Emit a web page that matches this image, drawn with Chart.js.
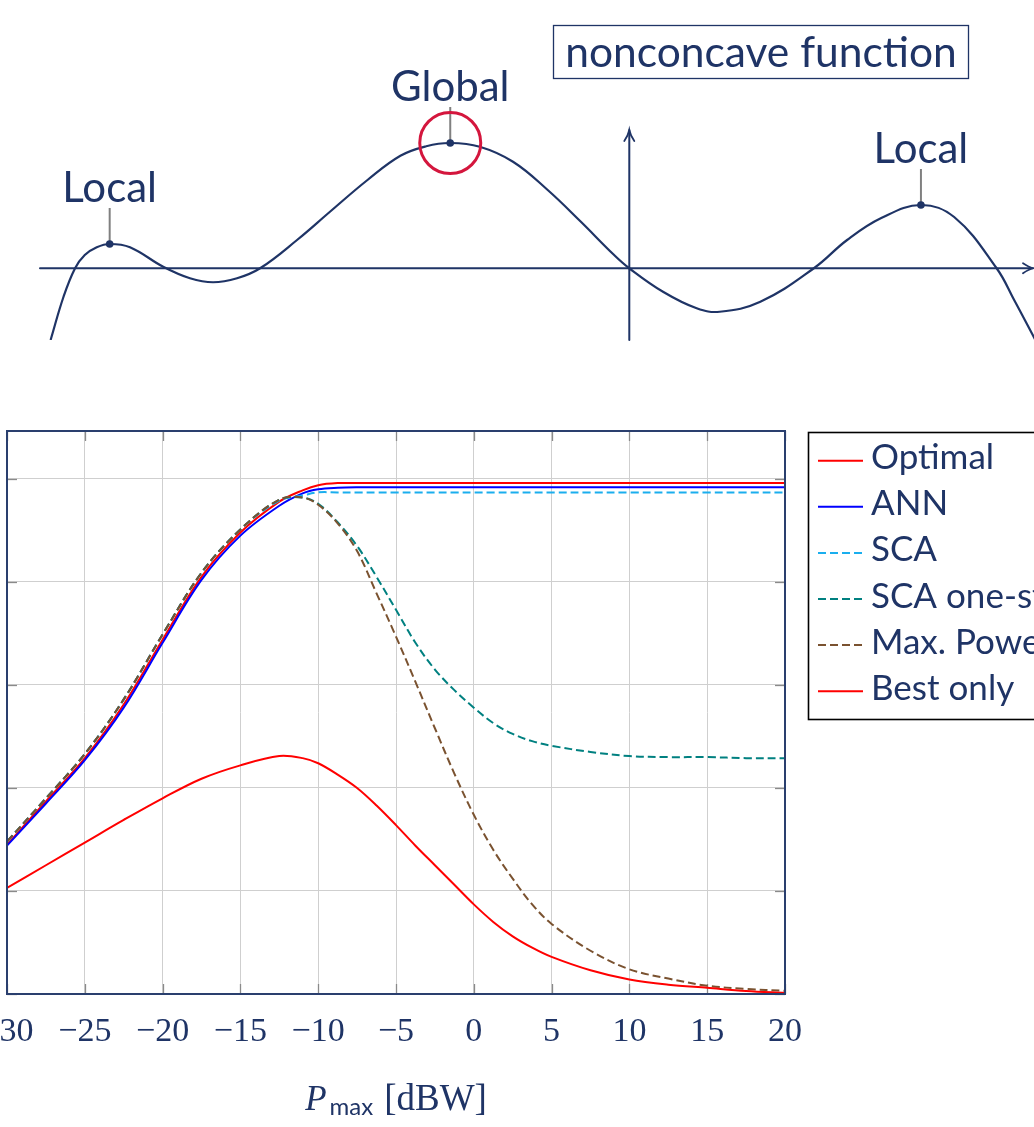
<!DOCTYPE html>
<html>
<head>
<meta charset="utf-8">
<script src="https://cdn.jsdelivr.net/npm/chart.js@4.4.1/dist/chart.umd.min.js"></script>
<style>
  html, body { margin: 0; padding: 0; background: #ffffff; overflow: hidden; width: 1034px; height: 1127px; }
  #topChart { position: absolute; left: 0; top: 0; }
  #mainChart { position: absolute; left: -60px; top: 360px; }
</style>
</head>
<body>
<canvas id="topChart" width="1034" height="360"></canvas>
<canvas id="mainChart" width="1094" height="767"></canvas>
<script>
// ---------- Top illustration: a nonconcave function ----------
const curveX = [-6.27, -6.13, -6.005, -5.90, -5.77, -5.63, -5.41, -5.05, -4.76, -4.51, -4.25, -4.0, -3.60, -3.24, -2.84, -2.48, -2.2, -1.94, -1.62, -1.26, -0.89, -0.53, -0.17, 0, 0.37, 0.73, 0.98, 1.42, 2.0, 2.36, 2.73, 3.16, 3.52, 3.98, 4.17, 4.40];
const curveY = [-2.87, -1.14, 0, 0.53, 0.84, 0.97, 0.84, 0.06, -0.40, -0.56, -0.40, 0, 1.13, 2.27, 3.52, 4.50, 4.88, 5.01, 4.86, 4.26, 3.15, 1.88, 0.55, 0, -0.95, -1.60, -1.74, -1.34, 0, 1.13, 2.01, 2.53, 2.05, 0, -1.27, -2.87];
const extremaX = [-5.63, -1.94, 3.16];
const extremaY = [0.97, 5.01, 2.53];
const extremaLabels = ['Local', 'Global', 'Local'];
const globalIndex = 1;
const topXRange = [-6.385, 4.385];
const topYRange = [-2.87, 10.73];
const topYAxisEnd = 5.53;
const boxLabel = 'nonconcave function';

// ---------- Main chart: performance vs. Pmax ----------
const pmax = [-30, -27.5, -25, -22.5, -20, -17.5, -15, -12.5, -11, -10, -8.75, -7.5, -6.25, -5, -3.75, -2.5, -1.25, 0, 1.25, 2.5, 3.75, 5, 7.5, 10, 12.5, 15, 17.5, 20];
const optimal = [1.45, 1.87, 2.29, 2.81, 3.44, 4.05, 4.48, 4.78, 4.89, 4.94, 4.96, 4.96, 4.96, 4.96, 4.96, 4.96, 4.96, 4.96, 4.96, 4.96, 4.96, 4.96, 4.96, 4.96, 4.96, 4.96, 4.96, 4.96];
const ann = [1.44, 1.85, 2.27, 2.78, 3.41, 4.02, 4.45, 4.74, 4.86, 4.90, 4.915, 4.92, 4.92, 4.92, 4.92, 4.92, 4.92, 4.92, 4.92, 4.92, 4.92, 4.92, 4.92, 4.92, 4.92, 4.92, 4.92, 4.92];
const sca = [1.48, 1.90, 2.33, 2.86, 3.49, 4.09, 4.51, 4.79, 4.84, 4.87, 4.87, 4.87, 4.87, 4.87, 4.87, 4.87, 4.87, 4.87, 4.87, 4.87, 4.87, 4.87, 4.87, 4.87, 4.87, 4.87, 4.87, 4.87];
const scaOneStep = [1.48, 1.90, 2.33, 2.86, 3.49, 4.09, 4.51, 4.80, 4.82, 4.76, 4.58, 4.35, 4.05, 3.73, 3.41, 3.15, 2.95, 2.78, 2.63, 2.525, 2.455, 2.41, 2.35, 2.31, 2.30, 2.30, 2.29, 2.29];
const maxPower = [1.48, 1.90, 2.33, 2.86, 3.49, 4.09, 4.51, 4.80, 4.82, 4.75, 4.57, 4.30, 3.89, 3.47, 3.03, 2.58, 2.14, 1.74, 1.40, 1.12, 0.87, 0.68, 0.42, 0.24, 0.15, 0.08, 0.05, 0.03];
const bestOnly = [1.03, 1.25, 1.47, 1.69, 1.90, 2.09, 2.22, 2.31, 2.29, 2.24, 2.13, 2.00, 1.83, 1.64, 1.44, 1.25, 1.06, 0.87, 0.70, 0.56, 0.45, 0.36, 0.23, 0.14, 0.09, 0.06, 0.03, 0.01];
const seriesNames = ['Optimal', 'ANN', 'SCA', 'SCA one-step', 'Max. Power', 'Best only'];
const xTicks = [-30, -25, -20, -15, -10, -5, 0, 5, 10, 15, 20];
const yTicks = [0, 1, 2, 3, 4, 5];
const yRange = [0, 5.466];
const xTitleMain = 'P';
const xTitleSub = 'max';
const xTitleUnit = '[dBW]';

// ---------- styles ----------
const NAVY = '#1f3466';
const FRAME = '#2a3f6e';
const seriesColors = ['#ff0000', '#0000ff', '#1aaeee', '#008080', '#7a5230', '#ff0000'];
const seriesDash = [[], [], [8, 4], [8, 4], [8, 4], []];
const seriesValues = [optimal, ann, sca, scaOneStep, maxPower, bestOnly];

// ---------- top chart ----------
const topDecor = {
  id: 'topDecor',
  beforeDatasetsDraw(chart) {
    const ctx = chart.ctx, xs = chart.scales.x, ys = chart.scales.y, a = chart.chartArea;
    const y0 = ys.getPixelForValue(0), x0 = xs.getPixelForValue(0);
    const yTop = ys.getPixelForValue(topYAxisEnd);
    ctx.save();
    ctx.strokeStyle = NAVY; ctx.lineWidth = 2; ctx.lineCap = 'round';
    ctx.beginPath(); ctx.moveTo(a.left, y0); ctx.lineTo(a.right - 1, y0); ctx.stroke();
    ctx.beginPath(); ctx.moveTo(x0, a.bottom); ctx.lineTo(x0, yTop); ctx.stroke();
    ctx.lineWidth = 1.8;
    ctx.beginPath();
    ctx.moveTo(a.right - 11, y0 - 5); ctx.quadraticCurveTo(a.right - 5, y0 - 1, a.right - 1, y0);
    ctx.quadraticCurveTo(a.right - 5, y0 + 1, a.right - 11, y0 + 5);
    ctx.stroke();
    ctx.beginPath();
    ctx.moveTo(x0 - 5, yTop + 11); ctx.quadraticCurveTo(x0 - 1, yTop + 5, x0, yTop);
    ctx.quadraticCurveTo(x0 + 1, yTop + 5, x0 + 5, yTop + 11);
    ctx.stroke();
    // pins
    ctx.strokeStyle = '#808080'; ctx.lineWidth = 2; ctx.lineCap = 'butt';
    extremaX.forEach((x, i) => {
      const px = xs.getPixelForValue(x), py = ys.getPixelForValue(extremaY[i]);
      ctx.beginPath(); ctx.moveTo(px, py - 2); ctx.lineTo(px, py - 36); ctx.stroke();
    });
    ctx.restore();
  },
  afterDraw(chart) {
    const ctx = chart.ctx, xs = chart.scales.x, ys = chart.scales.y;
    ctx.save();
    ctx.fillStyle = NAVY;
    ctx.font = '42px Lato';
    ctx.textAlign = 'center'; ctx.textBaseline = 'alphabetic';
    extremaX.forEach((x, i) => {
      const px = xs.getPixelForValue(x), py = ys.getPixelForValue(extremaY[i]);
      ctx.fillText(extremaLabels[i], px, py - 42);
    });
    // boxed label
    ctx.strokeStyle = NAVY; ctx.lineWidth = 1.3;
    ctx.strokeRect(553.5, 25.5, 415, 53);
    ctx.font = '42.5px Lato';
    ctx.fillText(boxLabel, 761, 67);
    ctx.restore();
  }
};

new Chart(document.getElementById('topChart'), {
  type: 'line',
  data: {
    datasets: [
      {
        label: 'f',
        data: curveX.map((x, i) => ({ x: x, y: curveY[i] })),
        borderColor: NAVY, borderWidth: 2.2, pointRadius: 0, fill: false,
        tension: 0.4, order: 3
      },
      {
        label: 'extrema',
        data: extremaX.map((x, i) => ({ x: x, y: extremaY[i] })),
        showLine: false, pointRadius: 3.8, pointBorderWidth: 0,
        pointBackgroundColor: NAVY, order: 1
      },
      {
        label: 'global',
        data: [{ x: extremaX[globalIndex], y: extremaY[globalIndex] }],
        showLine: false, pointRadius: 30.5, pointBorderWidth: 3,
        pointBorderColor: '#d4163d', pointBackgroundColor: 'rgba(0,0,0,0)', order: 2
      }
    ]
  },
  options: {
    responsive: false, animation: false, devicePixelRatio: 1,
    layout: { autoPadding: false, padding: { left: 40, right: 0, top: 0, bottom: 20 } },
    scales: {
      x: { type: 'linear', display: false, min: topXRange[0], max: topXRange[1] },
      y: { type: 'linear', display: false, min: topYRange[0], max: topYRange[1] }
    },
    plugins: { legend: { display: false }, tooltip: { enabled: false } }
  },
  plugins: [topDecor]
});

// ---------- main chart ----------
function fmtTick(v) { return v < 0 ? '\u2212' + Math.abs(v) : String(v); }

const mainDecor = {
  id: 'mainDecor',
  beforeDatasetsDraw(chart) {
    const ctx = chart.ctx, a = chart.chartArea, xs = chart.scales.x, ys = chart.scales.y;
    ctx.save();
    ctx.strokeStyle = '#8a8a8a'; ctx.lineWidth = 1.3;
    xTicks.forEach(v => {
      const px = Math.round(xs.getPixelForValue(v)) + 0.5;
      ctx.beginPath(); ctx.moveTo(px, a.bottom); ctx.lineTo(px, a.bottom - 10); ctx.stroke();
      ctx.beginPath(); ctx.moveTo(px, a.top); ctx.lineTo(px, a.top + 10); ctx.stroke();
    });
    yTicks.forEach(v => {
      const py = Math.round(ys.getPixelForValue(v)) + 0.5;
      ctx.beginPath(); ctx.moveTo(a.left, py); ctx.lineTo(a.left + 10, py); ctx.stroke();
      ctx.beginPath(); ctx.moveTo(a.right, py); ctx.lineTo(a.right - 10, py); ctx.stroke();
    });
    ctx.restore();
  },
  afterDraw(chart) {
    const ctx = chart.ctx, a = chart.chartArea;
    ctx.save();
    // frame
    ctx.strokeStyle = FRAME; ctx.lineWidth = 2;
    ctx.strokeRect(a.left, a.top, a.right - a.left, a.bottom - a.top);
    // legend
    const lx = 868.5, ly = 72.5, lh = 287;
    ctx.fillStyle = '#ffffff';
    ctx.fillRect(lx, ly, 400, lh);
    ctx.strokeStyle = '#000000'; ctx.lineWidth = 1.6;
    ctx.strokeRect(lx, ly, 400, lh);
    ctx.font = '35px Lato';
    ctx.textAlign = 'left'; ctx.textBaseline = 'alphabetic';
    chart.data.datasets.forEach((ds, i) => {
      const y = 100.7 + i * 46.1;
      ctx.strokeStyle = ds.borderColor; ctx.lineWidth = ds.borderWidth;
      ctx.setLineDash(ds.borderDash || []);
      ctx.beginPath(); ctx.moveTo(878, y); ctx.lineTo(923, y); ctx.stroke();
      ctx.setLineDash([]);
      ctx.fillStyle = NAVY;
      ctx.fillText(ds.label, 931, y + 8.5);
    });
    // x-axis title
    const cx = (a.left + a.right) / 2;
    const base = 750;
    ctx.fillStyle = NAVY;
    ctx.font = 'italic 35px "Liberation Serif"';
    const wP = ctx.measureText(xTitleMain).width;
    ctx.font = '24px Lato';
    const wS = ctx.measureText(xTitleSub).width;
    ctx.font = '37px "Liberation Serif"';
    const wU = ctx.measureText(xTitleUnit).width;
    const gap1 = 3, gap2 = 11;
    let x = cx - (wP + gap1 + wS + gap2 + wU) / 2;
    ctx.font = 'italic 35px "Liberation Serif"';
    ctx.fillText(xTitleMain, x, base); x += wP + gap1;
    ctx.font = '24px Lato';
    ctx.fillText(xTitleSub, x, base + 5); x += wS + gap2;
    ctx.font = '37px "Liberation Serif"';
    ctx.fillText(xTitleUnit, x, base);
    ctx.restore();
  }
};

new Chart(document.getElementById('mainChart'), {
  type: 'line',
  data: {
    datasets: seriesNames.map((name, i) => ({
      label: name,
      data: pmax.map((p, k) => ({ x: p, y: seriesValues[i][k] })),
      borderColor: seriesColors[i],
      borderDash: seriesDash[i],
      borderWidth: 2,
      pointRadius: 0,
      fill: false,
      tension: 0.35,
      order: seriesNames.length - i
    }))
  },
  options: {
    responsive: false, animation: false, devicePixelRatio: 1,
    layout: { autoPadding: false, padding: { left: 67, right: 249, top: 71, bottom: 73 } },
    scales: {
      x: {
        type: 'linear', min: xTicks[0], max: xTicks[xTicks.length - 1],
        afterBuildTicks: s => { s.ticks = xTicks.map(v => ({ value: v })); },
        afterFit: s => { s.height = 60; },
        ticks: {
          callback: v => fmtTick(v), autoSkip: false, maxRotation: 0, padding: 18,
          color: NAVY, font: { family: '"Liberation Serif"', size: 34 }
        },
        grid: { color: '#cfcfcf', lineWidth: 1, drawTicks: false },
        border: { display: false }
      },
      y: {
        type: 'linear', min: yRange[0], max: yRange[1],
        afterBuildTicks: s => { s.ticks = yTicks.map(v => ({ value: v })); },
        ticks: { display: false },
        grid: { color: '#cfcfcf', lineWidth: 1, drawTicks: false },
        border: { display: false }
      }
    },
    plugins: { legend: { display: false }, tooltip: { enabled: false } }
  },
  plugins: [mainDecor]
});
</script>
</body>
</html>
